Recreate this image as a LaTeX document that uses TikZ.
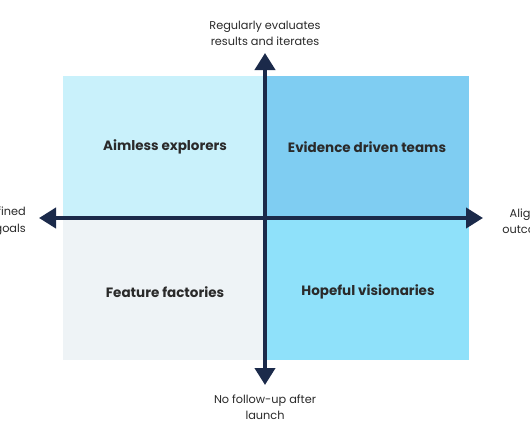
\documentclass[tikz,border=0pt]{standalone}
\usepackage{fontspec}
\setmainfont{Poppins}
\usetikzlibrary{arrows.meta}
\definecolor{axisc}{HTML}{1B2A4A}
\definecolor{qtl}{HTML}{C9F1FB}
\definecolor{qtr}{HTML}{7FCDF2}
\definecolor{qbl}{HTML}{EEF3F6}
\definecolor{qbr}{HTML}{8FE1FA}
\definecolor{txt}{HTML}{2A2A2A}
\tikzset{
  qlabel/.style={font=\fontsize{13.5}{16}\selectfont\bfseries, text=txt, inner sep=0pt},
  alabel/.style={font=\fontsize{11.3}{16.5}\selectfont, text=txt, align=center, inner sep=0pt},
  axisline/.style={line width=4pt, draw=axisc, -{Triangle[length=17pt,width=20pt]}}
}
\begin{document}
\begin{tikzpicture}[x=1pt,y=-1pt]
\path[use as bounding box, clip] (0,0) rectangle (530,442);
\fill[white] (0,0) rectangle (530,442);
\fill[qtl] (63,76) rectangle (265,218);
\fill[qtr] (265,76) rectangle (469,218);
\fill[qbl] (63,218) rectangle (265,360);
\fill[qbr] (265,218) rectangle (469,360);
\coordinate (c) at (265,218);
\coordinate (top) at (265,53);
\coordinate (bot) at (265,385);
\coordinate (lft) at (39,218);
\coordinate (rgt) at (483,218);
\draw[axisline] (c) -- (top);
\draw[axisline] (c) -- (bot);
\draw[axisline] (c) -- (lft);
\draw[axisline] (c) -- (rgt);
\node[qlabel] (tl) at (165,147) {Aimless explorers};
\node[qlabel] (tr) at (367,147) {Evidence driven teams};
\node[qlabel] (bl) at (165,292) {Feature factories};
\node[qlabel] (br) at (368,292) {Hopeful visionaries};
\node[alabel] (ta) at (265,33.5) {Regularly evaluates\\results and iterates};
\node[alabel] (ba) at (265,407) {No follow-up after\\launch};
\node[alabel, align=right, anchor=east] (la) at (26,221) {Undefined\\goals};
\node[alabel] (ra) at (531,221) {Aligned\\outcomes};
\end{tikzpicture}
\end{document}
